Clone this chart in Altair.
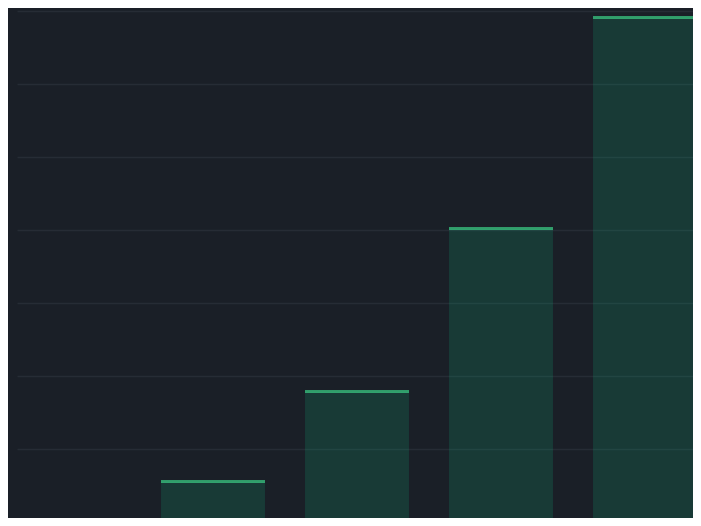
import altair as alt
import pandas as pd

categories = ["A", "B", "C", "D", "E"]
values = [19.8, 31.1, 55.8, 100.4, 158.2]
grid_values = [20, 40, 60, 80, 100, 120, 140, 160]

df = pd.DataFrame({"category": categories, "value": values})

x_enc = alt.X(
    "category:N",
    sort=categories,
    axis=None,
    scale=alt.Scale(range=[0, 684], paddingInner=0.278, paddingOuter=0.0139, align=0),
)
y_scale = alt.Scale(domain=[21.12, 160.82], zero=False, nice=False)
y_axis = alt.Axis(
    values=grid_values,
    grid=True,
    gridColor="#262c35",
    gridWidth=1.5,
    domain=False,
    ticks=False,
    labels=False,
    title=None,
)

bars = (
    alt.Chart(df)
    .mark_bar(color="#10b981", opacity=0.18, clip=True)
    .encode(x=x_enc, y=alt.Y("value:Q", scale=y_scale, axis=y_axis), y2=alt.datum(0))
)

tops = (
    alt.Chart(df)
    .mark_tick(color="#3ccf86", thickness=3, size=104, clip=True, orient="horizontal")
    .encode(x=x_enc, y=alt.Y("value:Q", scale=y_scale))
)

chart = (
    alt.layer(bars, tops)
    .properties(
        width=676,
        height=510,
        padding={"left": 9, "top": 0, "right": 0, "bottom": 0},
        autosize=alt.AutoSizeParams(type="none"),
        background="#1a1f27",
    )
    .configure_view(strokeWidth=0)
)

chart.save("out.html", embed_options={"renderer": "svg", "actions": False})
